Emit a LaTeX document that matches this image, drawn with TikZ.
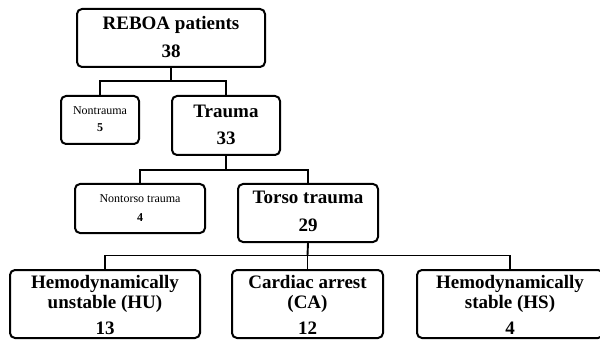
\documentclass[tikz,border=0pt]{standalone}
\usepackage{fontspec}
\setmainfont{Liberation Serif}
\begin{document}
\begin{tikzpicture}[x=1pt,y=-1pt,
  box/.style={draw, line width=2pt, rounded corners=5pt, inner sep=0pt},
  conn/.style={line width=1.9pt},
  big/.style={font=\fontsize{19}{22}\selectfont\bfseries, anchor=base, inner sep=0pt},
  small/.style={font=\fontsize{12}{14}\selectfont, anchor=base, inner sep=0pt},
  smallb/.style={font=\fontsize{12}{14}\selectfont\bfseries, anchor=base, inner sep=0pt}]
\useasboundingbox (0,0) rectangle (600,342);
% boxes
\node[box, minimum width=188pt, minimum height=58pt] (reboa) at (171,38) {};
\node[box, minimum width=78pt, minimum height=48pt] (nontrauma) at (100,120) {};
\node[box, minimum width=108pt, minimum height=59pt] (trauma) at (226,125.5) {};
\node[box, minimum width=130pt, minimum height=49pt] (nontorso) at (140,208.5) {};
\node[box, minimum width=140pt, minimum height=58pt] (torso) at (308,213) {};
\node[box, minimum width=190pt, minimum height=68pt] (hu) at (105,304) {};
\node[box, minimum width=151pt, minimum height=68pt] (ca) at (307.5,304) {};
\node[box, minimum width=186pt, minimum height=68pt] (hs) at (510,304) {};
% texts
\node[big] (t1a) at (171,30) {REBOA patients};
\node[big] (t1b) at (171,58) {38};
\node[small] (t2a) at (100,115) {Nontrauma};
\node[smallb] (t2b) at (100,132) {5};
\node[big] (t3a) at (226,118) {Trauma};
\node[big] (t3b) at (226,145) {33};
\node[small] (t4a) at (140,203) {Nontorso trauma};
\node[smallb] (t4b) at (140,221) {4};
\node[big] (t5a) at (308,204) {Torso trauma};
\node[big] (t5b) at (308,231) {29};
\node[big] (t6a) at (105,288) {Hemodynamically};
\node[big] (t6b) at (105,308) {unstable (HU)};
\node[big] (t6c) at (105,334) {13};
\node[big] (t7a) at (307.5,288) {Cardiac arrest};
\node[big] (t7b) at (307.5,308) {(CA)};
\node[big] (t7c) at (307.5,334) {12};
\node[big] (t8a) at (510,288) {Hemodynamically};
\node[big] (t8b) at (510,308) {stable (HS)};
\node[big] (t8c) at (510,334) {4};
% bus coordinates
\coordinate (bus1) at (171,81);
\coordinate (bus2) at (226,170);
\coordinate (bus3) at (307.5,255.5);
% connectors
\draw[conn] (reboa.south) -- (bus1);
\draw[conn] (nontrauma.north) |- (bus1) -| (trauma.north);
\draw[conn] (trauma.south) -- (bus2);
\draw[conn] (nontorso.north) |- (bus2) -| (torso.north);
\draw[conn] (torso.south) -- (bus3);
\draw[conn] (hu.north) |- (bus3) -| (hs.north);
\draw[conn] (bus3) -- (ca.north);
\end{tikzpicture}
\end{document}
